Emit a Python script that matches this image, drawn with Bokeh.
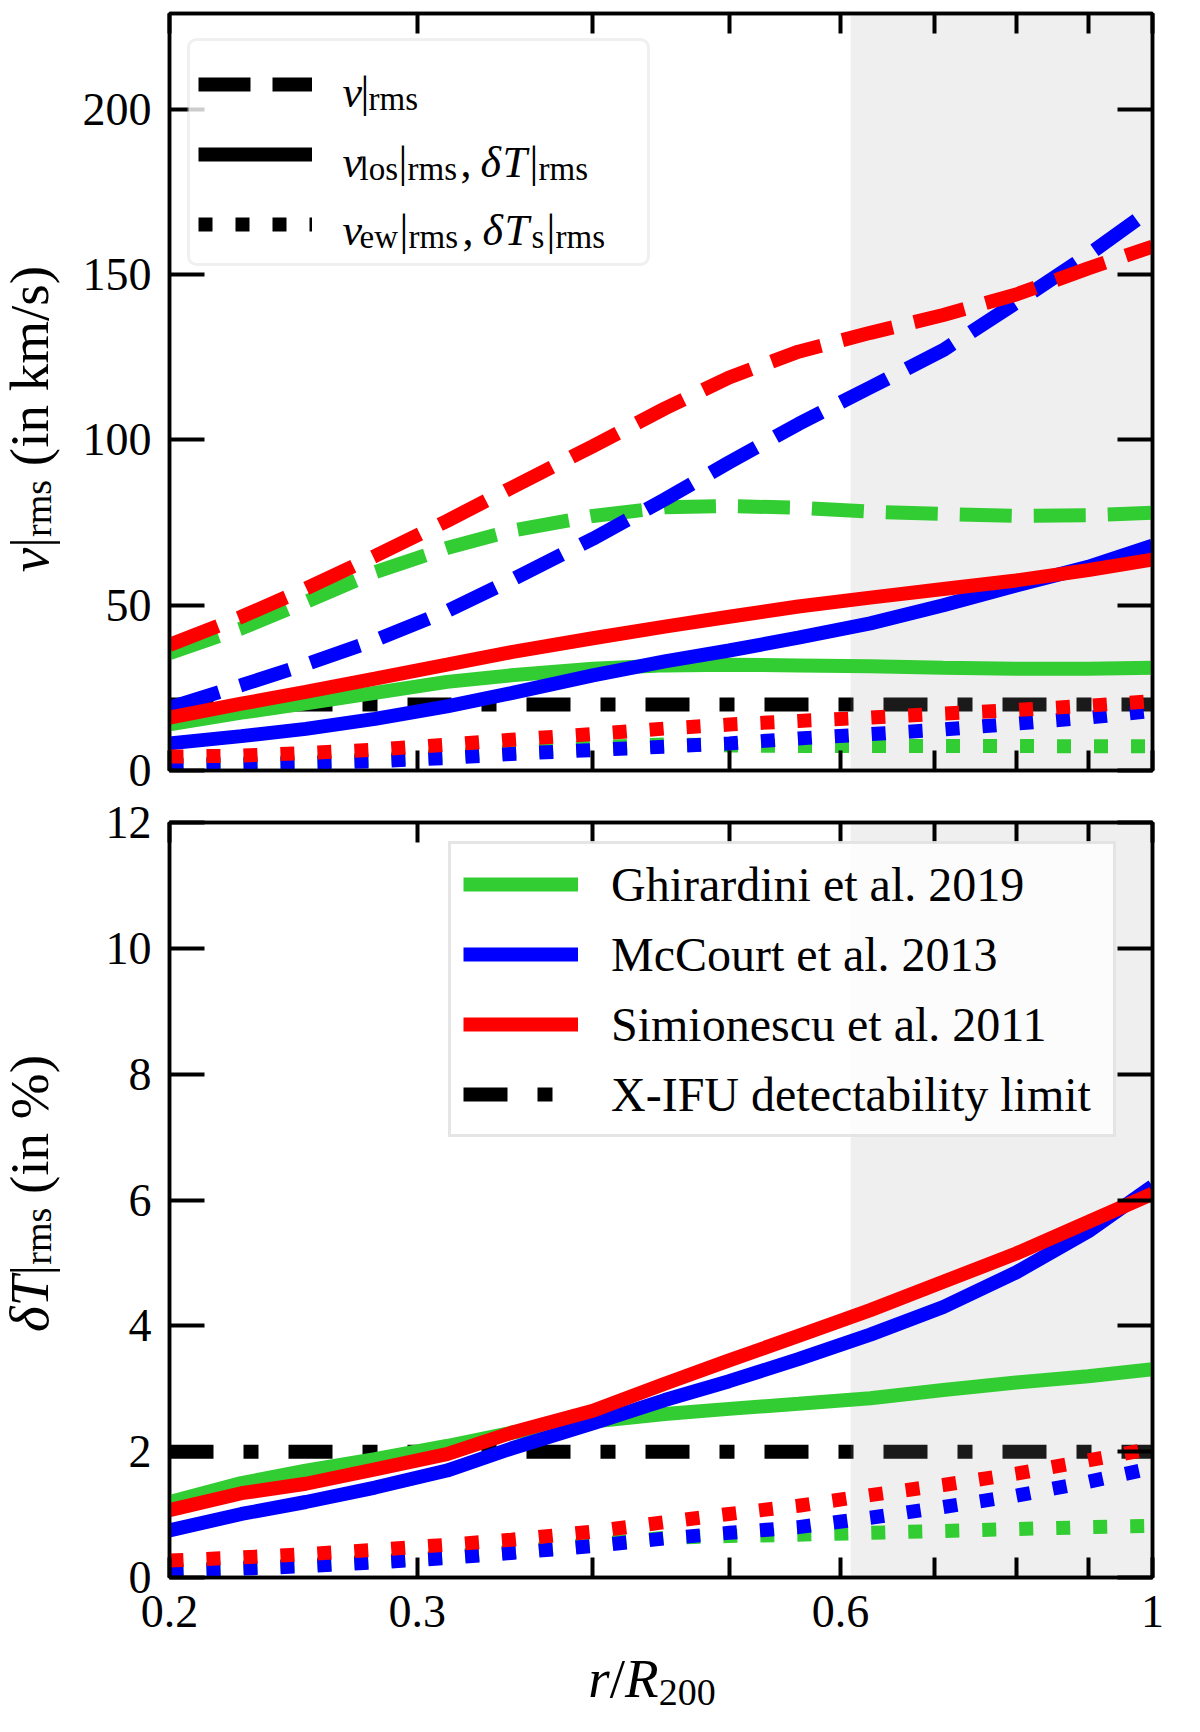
from bokeh.plotting import figure
from bokeh.layouts import column, row
from bokeh.models import (BoxAnnotation, CustomJSTickFormatter, Div, FixedTicker,
                          Label, Legend, LegendItem, LinearAxis, LogAxis, Range1d)
from bokeh.embed import file_html
from bokeh.resources import INLINE

# radius in units of R200
r = [0.2, 0.225, 0.25, 0.28, 0.315, 0.35, 0.4, 0.45, 0.5, 0.56, 0.63, 0.71, 0.8, 0.9, 1.0]

# top panel, velocity (km/s): 3D rms, line of sight, emission weighted
v_rms_ghir = [35.5, 43, 51, 60, 67.3, 72.5, 77, 79.6, 80, 79.5, 78.3, 77.6, 77.0, 77.2, 78]
v_rms_mcc = [19, 25.8, 32.1, 39.4, 48.2, 57.6, 70.1, 82, 93.2, 104.8, 115.9, 127.2, 141.5, 156.0, 170]
v_rms_sim = [38, 46.5, 55, 64.9, 75.5, 85.5, 98.1, 109.5, 118.9, 126.7, 132.4, 137.8, 144.0, 151.9, 158.5]

v_los_ghir = [14, 17.5, 20.3, 23.5, 26.8, 28.8, 30.8, 31.8, 32, 31.8, 31.5, 31.1, 30.8, 30.8, 31.1]
v_los_mcc = [8.2, 10.4, 12.6, 15.6, 19.4, 23.4, 28.8, 33.0, 36.3, 40.2, 44.5, 50.0, 56.0, 61.6, 68]
v_los_sim = [16, 20.2, 23.8, 27.8, 32.0, 35.8, 40.0, 43.5, 46.5, 49.6, 52.3, 54.9, 57.5, 60.6, 63.8]

v_ew_ghir = [1.8, 2.2, 2.7, 3.4, 4.5, 5.7, 7.0, 7.9, 7.6, 7.4, 7.4, 7.4, 7.4, 7.3, 7.3]
v_ew_mcc = [1.5, 1.8, 2.2, 2.8, 3.8, 5.0, 6.2, 7.2, 8.2, 9.7, 11.0, 12.4, 14.2, 16.0, 18.0]
v_ew_sim = [4.2, 4.5, 5.3, 6.3, 7.8, 9.3, 11.0, 12.7, 13.9, 15.0, 16.0, 17.2, 18.3, 19.6, 21.0]

# bottom panel, temperature fluctuations (%)
dT_ghir = [1.20, 1.50, 1.70, 1.88, 2.09, 2.30, 2.48, 2.60, 2.68, 2.76, 2.85, 2.98, 3.10, 3.20, 3.31]
dT_mcc = [0.75, 1.01, 1.20, 1.43, 1.70, 2.05, 2.45, 2.82, 3.12, 3.47, 3.86, 4.30, 4.85, 5.50, 6.22]
dT_sim = [1.07, 1.34, 1.49, 1.72, 1.96, 2.30, 2.65, 3.08, 3.45, 3.84, 4.25, 4.70, 5.15, 5.65, 6.10]

dTs_ghir = [0.12, 0.16, 0.20, 0.26, 0.33, 0.41, 0.53, 0.63, 0.66, 0.68, 0.71, 0.74, 0.77, 0.80, 0.82]
dTs_mcc = [0.10, 0.14, 0.18, 0.24, 0.31, 0.39, 0.50, 0.62, 0.71, 0.80, 0.95, 1.12, 1.30, 1.52, 1.74]
dTs_sim = [0.27, 0.32, 0.37, 0.44, 0.52, 0.60, 0.73, 0.88, 1.01, 1.14, 1.31, 1.47, 1.65, 1.86, 2.05]

# X-IFU detectability limits and the shaded outskirts
v_limit = 20
dT_limit = 2
shade_start = 0.61

names = ["Ghirardini et al. 2019", "McCourt et al. 2013", "Simionescu et al. 2011"]
x_ticks = [0.2, 0.3, 0.6, 1.0]
x_minor = [0.4, 0.5, 0.7, 0.8, 0.9]
v_ticks = [0, 50, 100, 150, 200]
dT_ticks = [0, 2, 4, 6, 8, 10, 12]
v_max, dT_max = 229, 12

GREEN, BLUE, RED = "#32cd32", "#0000ff", "#ff0000"
FONT = "Liberation Serif"
LW = 14
DASHED, DOTTED, DASHDOT = "52 22", "14 23", "44 30 15 30"


def make_panel(height, y_max, y_ticks, top, bottom, show_x):
    p = figure(width=1124, height=height, x_axis_type="log",
               x_range=Range1d(0.2, 1.0), y_range=Range1d(0, y_max),
               output_backend="svg", toolbar_location=None,
               min_border_left=99, min_border_right=42,
               min_border_top=top, min_border_bottom=bottom)
    p.grid.visible = False
    p.outline_line_color = "black"
    p.outline_line_width = 3.5
    p.add_layout(LogAxis(), "above")
    p.add_layout(LinearAxis(), "right")
    for ax in p.xaxis:
        ax.ticker = FixedTicker(ticks=x_ticks, minor_ticks=x_minor)
        ax.formatter = CustomJSTickFormatter(code="return tick.toString()")
        ax.major_tick_in = 20
        ax.minor_tick_in = 20
    for ax in p.yaxis:
        ax.ticker = FixedTicker(ticks=y_ticks)
        ax.major_tick_in = 35
        ax.minor_tick_line_color = None
    for ax in p.xaxis + p.yaxis:
        ax.major_tick_out = 0
        ax.minor_tick_out = 0
        ax.major_tick_line_width = 4
        ax.minor_tick_line_width = 4
        ax.axis_line_width = 3.5
        ax.major_label_text_font = FONT
        ax.major_label_text_font_size = "46px"
        ax.major_label_text_color = "black"
        ax.major_label_standoff = 18
    hidden = [p.above[0], p.right[0]] + ([] if show_x else [p.below[0]])
    for ax in hidden:
        ax.major_label_text_color = None
        ax.major_label_text_font_size = "1px"
        ax.major_label_standoff = 0
    return p


def put(p, x, y, s, size, italic=False):
    p.add_layout(Label(x=x, y=y, x_units="screen", y_units="screen", text=s,
                       text_font=FONT, text_font_size=f"{size}px",
                       text_font_style="italic" if italic else "normal",
                       text_align="left", text_baseline="alphabetic",
                       text_color="black"))


def vlabel(html, width, height, pad_top, pad_bottom):
    inner = (f'<div style="box-sizing:border-box;width:{width}px;height:{height}px;'
             f'padding-top:{pad_top}px;padding-bottom:{pad_bottom}px;'
             f'display:flex;align-items:center;justify-content:flex-start;">'
             f'<span style="writing-mode:vertical-rl;transform:rotate(180deg);'
             f"font-family:'{FONT}';font-size:55px;line-height:50px;white-space:nowrap;"
             f'color:black;">{html}</span></div>')
    return Div(text=inner, width=width, height=height, styles={"overflow": "visible"})


SUB = 'style="font-size:38px;vertical-align:-8px;"'

top = make_panel(796, v_max, v_ticks, 13, 26, False)
bot = make_panel(861, dT_max, dT_ticks, 26, 80, True)
nan = [float("nan")] * len(r)

# top panel
top.line(r, [v_limit] * len(r), line_color="black", line_width=LW, line_dash=DASHDOT)
top.quad(left=[shade_start], right=[1.0], bottom=[0], top=[v_max],
         fill_color="#9d9d9d", fill_alpha=0.165, line_color=None)
for col, vr, vl, ve in [(GREEN, v_rms_ghir, v_los_ghir, v_ew_ghir),
                        (BLUE, v_rms_mcc, v_los_mcc, v_ew_mcc),
                        (RED, v_rms_sim, v_los_sim, v_ew_sim)]:
    top.line(r, vr, line_color=col, line_width=LW, line_dash=DASHED)
    top.line(r, vl, line_color=col, line_width=LW)
    top.line(r, ve, line_color=col, line_width=LW, line_dash=DOTTED)

# line-style legend: box, black proxy swatches, then the texts
top.add_layout(BoxAnnotation(left=19, right=479, top=731, bottom=506,
                             left_units="screen", right_units="screen",
                             top_units="screen", bottom_units="screen",
                             fill_color="white", fill_alpha=0.8, border_radius=8,
                             line_color="#cccccc", line_width=3))
k_dash = top.line(r, nan, line_color="black", line_width=LW, line_dash=DASHED)
k_solid = top.line(r, nan, line_color="black", line_width=LW)
k_dot = top.line(r, nan, line_color="black", line_width=LW, line_dash=DOTTED)
top.add_layout(Legend(items=[LegendItem(label=" ", renderers=[k_dash]),
                             LegendItem(label=" ", renderers=[k_solid]),
                             LegendItem(label=" ", renderers=[k_dot])],
                      location=(29, 521), glyph_width=114, glyph_height=50,
                      label_height=50, label_width=296, label_standoff=20,
                      spacing=20, padding=15, margin=0,
                      label_text_font_size="38px",
                      border_line_color=None, background_fill_alpha=0))

M, S = 44, 33
for x, y, s, size, it in [
        (173, 678, "v", M, True), (191, 678, "|", M, False), (199, 672, "rms", S, False),
        (173, 608, "v", M, True), (190, 602, "los", S, False), (229, 608, "|", M, False),
        (238, 602, "rms", S, False), (291, 608, ",", M, False), (311, 608, "δ", M, True),
        (333, 608, "T", M, True), (360, 608, "|", M, False), (369, 602, "rms", S, False),
        (173, 540, "v", M, True), (190, 534, "ew", S, False), (230, 540, "|", M, False),
        (239, 534, "rms", S, False), (293, 540, ",", M, False), (313, 540, "δ", M, True),
        (335, 540, "T", M, True), (362, 534, "s", S, False), (377, 540, "|", M, False),
        (386, 534, "rms", S, False)]:
    put(top, x, y, s, size, it)

# bottom panel
lim = bot.line(r, [dT_limit] * len(r), line_color="black", line_width=LW, line_dash=DASHDOT)
bot.quad(left=[shade_start], right=[1.0], bottom=[0], top=[dT_max],
         fill_color="#9d9d9d", fill_alpha=0.165, line_color=None)
solids = []
for col, d, ds in [(GREEN, dT_ghir, dTs_ghir), (BLUE, dT_mcc, dTs_mcc), (RED, dT_sim, dTs_sim)]:
    solids.append(bot.line(r, d, line_color=col, line_width=LW))
    bot.line(r, ds, line_color=col, line_width=LW, line_dash=DOTTED)

items = [LegendItem(label=n, renderers=[g]) for n, g in zip(names, solids)]
items.append(LegendItem(label="X-IFU detectability limit", renderers=[lim]))
bot.add_layout(Legend(items=items, location=(279, 440), glyph_width=115, glyph_height=56,
                      label_height=56, label_width=490, label_standoff=33,
                      spacing=14, padding=12, margin=0,
                      label_text_font=FONT, label_text_font_size="48px",
                      label_text_color="black",
                      border_line_color="#cccccc", border_line_width=3,
                      background_fill_alpha=0.8))

# axis titles as html text
ylab_top = vlabel(f"<i>v</i>|<span {SUB}>rms</span> (in km/s)", 60, 796, 33, 0)
ylab_bot = vlabel(f"<i>δT</i>|<span {SUB}>rms</span> (in %)", 60, 919, 0, 155)
xlab = Div(text=(f'<div style="box-sizing:border-box;width:1124px;padding-left:30px;'
                 f"position:relative;top:-8px;text-align:center;font-family:'{FONT}';"
                 f'font-size:55px;line-height:50px;color:black;white-space:nowrap;">'
                 f'<i>r</i>/<i>R</i><span {SUB}>200</span></div>'),
           width=1124, height=58, styles={"overflow": "visible"})

layout = row(column(ylab_top, ylab_bot), column(top, bot, xlab))
open("out.html", "w").write(file_html(layout, INLINE))
